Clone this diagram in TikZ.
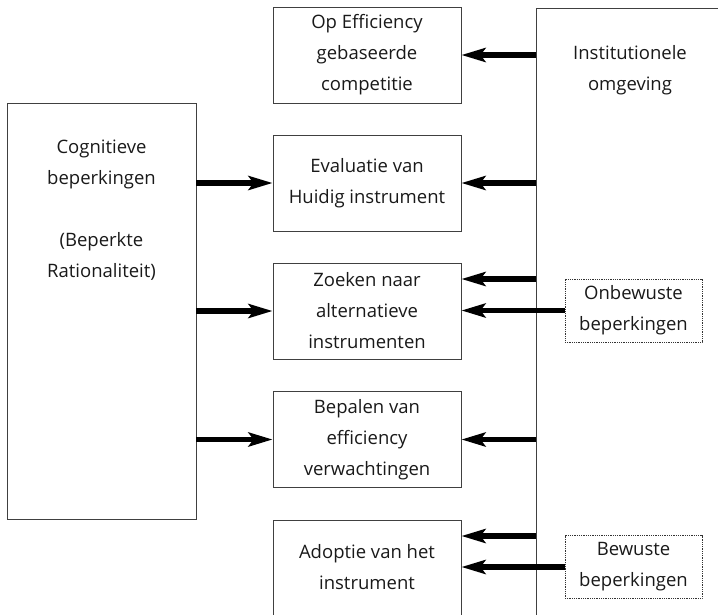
\documentclass[tikz,border=0pt]{standalone}
\usepackage{fontspec}
\setmainfont{Open Sans}
\usetikzlibrary{arrows.meta}
\begin{document}
\begin{tikzpicture}[x=1pt,y=-1pt,
  txt/.style={font=\fontsize{18.5}{31}\selectfont, align=center, text=black!90, inner sep=0pt},
  box/.style={draw=black!75, line width=0.9pt, minimum width=188pt, minimum height=96pt, inner sep=0pt, txt},
  dotbox/.style={draw=black!80, line width=0.8pt, densely dotted, minimum width=137pt, minimum height=63pt, inner sep=0pt, txt},
  arr/.style={line width=5.5pt, -{Stealth[length=24pt,width=14pt,inset=5pt]}}
]
\useasboundingbox (0,0) rectangle (718,614);
\clip (0,0) rectangle (718,614);
% big boxes
\node[draw=black!75, line width=0.9pt, minimum width=189pt, minimum height=416pt, inner sep=0pt] (cog) at (101.5,311) {};
\node[txt] (cogtext) at (101.5,210) {Cognitieve\\beperkingen\\ \\(Beperkte\\Rationaliteit)};
\node[draw=black!75, line width=0.9pt, minimum width=200pt, minimum height=640pt, inner sep=0pt, anchor=north west] (inst) at (536,8) {};
\node[txt] (insttext) at (630,70) {Institutionele\\omgeving};
% process boxes
\node[box] (b1) at (367,55) {Op Efficiency\\gebaseerde\\competitie};
\node[box] (b2) at (367,183) {Evaluatie van\\Huidig instrument};
\node[box] (b3) at (367,311) {Zoeken naar\\alternatieve\\instrumenten};
\node[box] (b4) at (367,439.5) {Bepalen van\\efficiency\\verwachtingen};
\node[box, minimum height=100pt, anchor=north] (b5) at (367,520) {};
\node[txt] (b5text) at (367,567) {Adoptie van het\\instrument};
% dotted boxes
\node[dotbox] (onb) at (633.5,310.5) {Onbewuste\\beperkingen};
\node[dotbox] (bew) at (633.5,567) {Bewuste\\beperkingen};
% arrows from institutional environment
\draw[arr] (inst.west |- b1.east) -- (b1.east);
\draw[arr] (inst.west |- b2.east) -- (b2.east);
\draw[arr] (inst.west |- 0,279) -- (b3.east |- 0,279);
\draw[arr] (onb.west) -- (b3.east |- onb.west);
\draw[arr] (inst.west |- b4.east) -- (b4.east);
\draw[arr] (inst.west |- 0,536) -- (b5.east |- 0,536);
\draw[arr] (bew.west) -- (b5.east |- bew.west);
% arrows from cognitive constraints
\draw[arr] (cog.east |- b2.west) -- (b2.west);
\draw[arr] (cog.east |- b3.west) -- (b3.west);
\draw[arr] (cog.east |- b4.west) -- (b4.west);
\end{tikzpicture}
\end{document}
